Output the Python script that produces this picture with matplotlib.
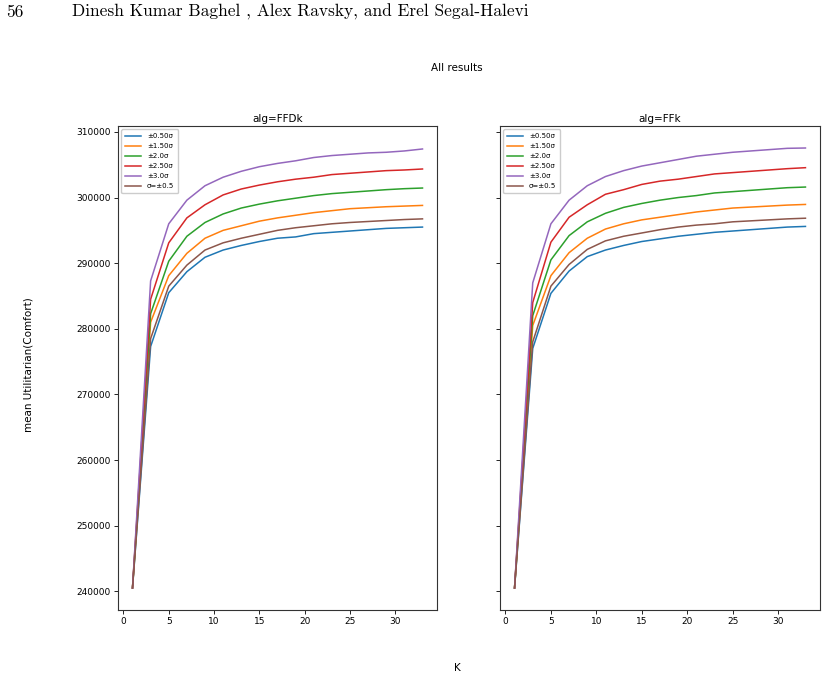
import matplotlib
matplotlib.use("Agg")
import matplotlib.pyplot as plt

K = [1, 3, 5, 7, 9, 11, 13, 15, 17, 19, 21, 23, 25, 27, 29, 31, 33]
labels = ["±0.50σ", "±1.50σ", "±2.0σ", "±2.50σ", "±3.0σ", "σ=±0.5"]

ffdk = {
    "±0.50σ": [240500, 277300, 285500, 288700, 290900, 292000, 292700, 293300, 293800, 294000, 294500, 294700, 294900, 295100, 295300, 295400, 295500],
    "±1.50σ": [240500, 281000, 288100, 291500, 293800, 295000, 295700, 296400, 296900, 297300, 297700, 298000, 298300, 298450, 298600, 298700, 298800],
    "±2.0σ":  [240500, 282300, 290300, 294100, 296200, 297500, 298400, 299000, 299500, 299900, 300300, 300600, 300800, 301000, 301200, 301350, 301450],
    "±2.50σ": [240500, 284500, 293100, 296900, 298900, 300400, 301300, 301900, 302400, 302800, 303100, 303500, 303700, 303900, 304100, 304200, 304350],
    "±3.0σ":  [240500, 287300, 296000, 299600, 301800, 303100, 304000, 304700, 305200, 305600, 306100, 306400, 306600, 306800, 306900, 307100, 307400],
    "σ=±0.5": [240500, 278500, 286500, 289700, 292000, 293100, 293800, 294400, 295000, 295400, 295700, 296000, 296200, 296350, 296500, 296650, 296750],
}
ffk = {
    "±0.50σ": [240500, 277000, 285400, 288800, 291000, 292000, 292700, 293300, 293700, 294100, 294400, 294700, 294900, 295100, 295300, 295500, 295600],
    "±1.50σ": [240500, 280500, 288100, 291600, 293800, 295200, 296000, 296600, 297000, 297400, 297800, 298100, 298400, 298550, 298700, 298850, 298950],
    "±2.0σ":  [240500, 282000, 290500, 294200, 296300, 297600, 298500, 299100, 299600, 300000, 300300, 300700, 300900, 301100, 301300, 301500, 301600],
    "±2.50σ": [240500, 284000, 293200, 297000, 298900, 300500, 301200, 302000, 302500, 302800, 303200, 303600, 303800, 304000, 304200, 304400, 304550],
    "±3.0σ":  [240500, 287000, 296000, 299600, 301800, 303200, 304100, 304800, 305300, 305800, 306300, 306600, 306900, 307100, 307300, 307500, 307550],
    "σ=±0.5": [240500, 278000, 286500, 289800, 292100, 293400, 294100, 294600, 295100, 295500, 295800, 296000, 296300, 296450, 296600, 296750, 296850],
}
titles = ["alg=FFDk", "alg=FFk"]
colors = ["#1f77b4", "#ff7f0e", "#2ca02c", "#d62728", "#9467bd", "#8c564b"]

fig = plt.figure(figsize=(8.25, 6.78), dpi=100)
ax1 = fig.add_axes([118/825, 1-610/678, 319/825, 484/678])
ax2 = fig.add_axes([500/825, 1-610/678, 320/825, 484/678], sharey=ax1)

for ax, data, title in zip([ax1, ax2], [ffdk, ffk], titles):
    for lab, c in zip(labels, colors):
        ax.plot(K, data[lab], color=c, lw=1.1, label=lab)
    ax.set_title(title, fontsize=7.5, pad=3)
    ax.tick_params(labelsize=6.5, length=3, width=0.6, pad=2)
    for s in ax.spines.values():
        s.set_linewidth(0.8)
        s.set_color("#333333")
    ax.set_xticks([0, 5, 10, 15, 20, 25, 30])
    ax.legend(loc="upper left", fontsize=5, handlelength=2.3, borderpad=0.55,
              labelspacing=0.58, framealpha=1)
ax1.set_yticks([240000, 250000, 260000, 270000, 280000, 290000, 300000, 310000])
plt.setp(ax2.get_yticklabels(), visible=False)

fig.text(457/825, 1-68/678, "All results", ha="center", va="center", fontsize=7.5)
fig.text(457/825, 1-668/678, "K", ha="center", va="center", fontsize=7.5)
fig.text(29/825, 1-365/678, "mean Utilitarian(Comfort)", rotation=90,
         ha="center", va="center", fontsize=7.5)

fig.text(6/825, 1-12/678, "56", ha="left", va="center", fontsize=12.5, family="cmr10")
fig.text(72/825, 1-12/678, "Dinesh Kumar Baghel , Alex Ravsky, and Erel Segal-Halevi",
         ha="left", va="center", fontsize=12.5, family="cmr10")

fig.savefig("out.png", dpi=100)
